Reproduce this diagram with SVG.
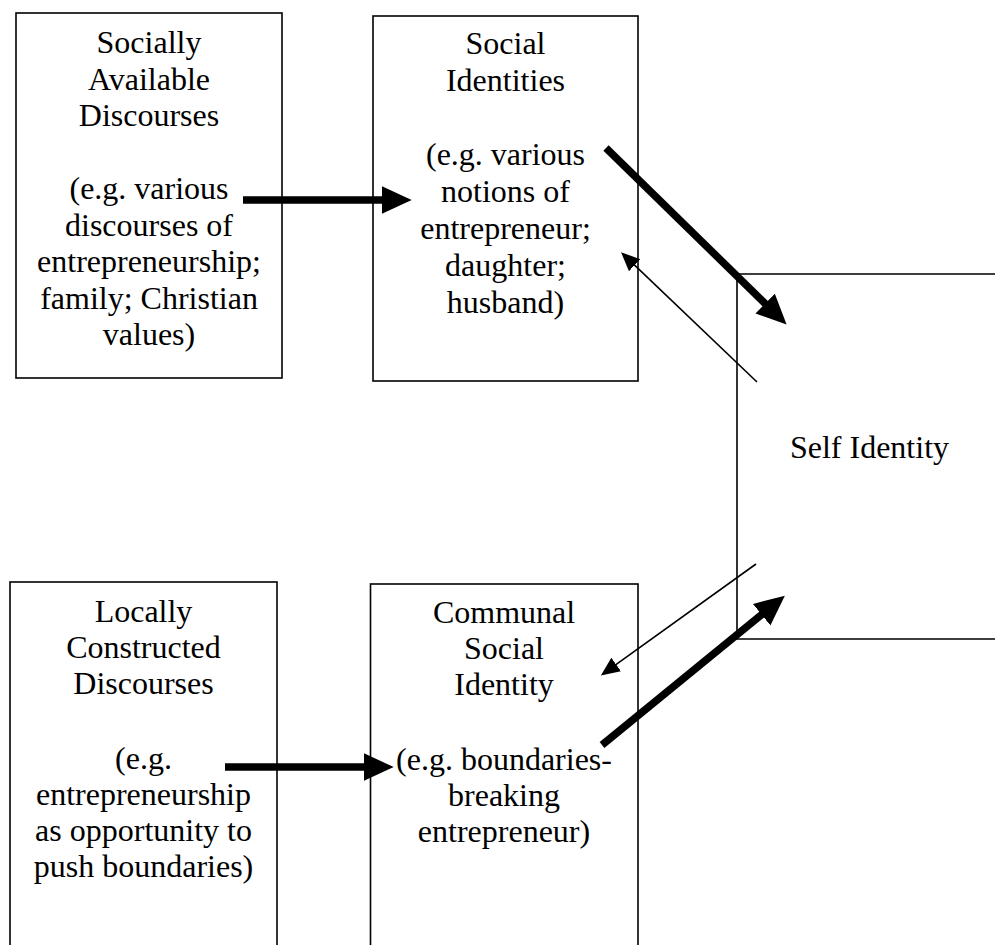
<svg xmlns="http://www.w3.org/2000/svg" width="995" height="945" viewBox="0 0 995 945">
<style>
.box{fill:#fff;stroke:#000;stroke-width:1.6}
.t{font-family:"Liberation Serif","Times New Roman",serif;font-size:32px;fill:#000;text-anchor:middle}
.thick{stroke:#000;stroke-width:7.5;fill:none}
.thin{stroke:#000;stroke-width:1.6;fill:none}
</style>
<defs>
<marker id="big" markerUnits="userSpaceOnUse" markerWidth="30" markerHeight="30" viewBox="0 -13 26 26" refX="2" refY="0" orient="auto">
<path d="M0,-12 L26,0 L0,12 z" fill="#000"/>
</marker>
<marker id="small" markerUnits="userSpaceOnUse" markerWidth="20" markerHeight="20" viewBox="0 -8 17 16" refX="1" refY="0" orient="auto">
<path d="M0,-7 L16,0 L0,7 z" fill="#000"/>
</marker>
</defs>
<rect width="995" height="945" fill="#fff"/>
<g id="socially-available">
<rect class="box" x="16" y="13" width="266" height="365"/>
<text class="t" x="149" y="53">Socially</text>
<text class="t" x="149" y="89.5">Available</text>
<text class="t" x="149" y="126">Discourses</text>
<text class="t" x="149" y="199">(e.g. various</text>
<text class="t" x="149" y="235.5">discourses of</text>
<text class="t" x="149" y="272">entrepreneurship;</text>
<text class="t" x="149" y="308.5">family; Christian</text>
<text class="t" x="149" y="345">values)</text>
</g>
<g id="social-identities">
<rect class="box" x="373" y="16" width="265" height="365"/>
<text class="t" x="505.5" y="54">Social</text>
<text class="t" x="505.5" y="91">Identities</text>
<text class="t" x="505.5" y="165">(e.g. various</text>
<text class="t" x="505.5" y="202">notions of</text>
<text class="t" x="505.5" y="239">entrepreneur;</text>
<text class="t" x="505.5" y="276">daughter;</text>
<text class="t" x="505.5" y="313">husband)</text>
</g>
<g id="locally-constructed">
<rect class="box" x="10" y="582" width="267" height="400"/>
<text class="t" x="143.5" y="622">Locally</text>
<text class="t" x="143.5" y="658">Constructed</text>
<text class="t" x="143.5" y="694">Discourses</text>
<text class="t" x="143.5" y="769">(e.g.</text>
<text class="t" x="143.5" y="805">entrepreneurship</text>
<text class="t" x="143.5" y="841">as opportunity to</text>
<text class="t" x="143.5" y="877">push boundaries)</text>
</g>
<g id="communal-social-identity">
<rect class="box" x="370.5" y="584" width="267.5" height="400"/>
<text class="t" x="504" y="623">Communal</text>
<text class="t" x="504" y="659">Social</text>
<text class="t" x="504" y="695">Identity</text>
<text class="t" x="504" y="770">(e.g. boundaries-</text>
<text class="t" x="504" y="806">breaking</text>
<text class="t" x="504" y="842">entrepreneur)</text>
</g>
<g id="self-identity">
<path d="M996,274 H737 V639 H996" fill="none" stroke="#000" stroke-width="1.6"/>
<text class="t" x="869.5" y="458">Self Identity</text>
</g>
<g id="connectors">
<line class="thick" x1="243" y1="200" x2="384" y2="200" marker-end="url(#big)"/>
<line class="thick" x1="606" y1="148" x2="766.8" y2="305.2" marker-end="url(#big)"/>
<line class="thick" x1="602" y1="745" x2="763.4" y2="613.2" marker-end="url(#big)"/>
<line class="thick" x1="225" y1="767" x2="366" y2="767" marker-end="url(#big)"/>
<line class="thin" x1="757" y1="382" x2="633.8" y2="264.4" marker-end="url(#small)"/>
<line class="thin" x1="756" y1="564" x2="615.2" y2="665.2" marker-end="url(#small)"/>
</g>
</svg>
